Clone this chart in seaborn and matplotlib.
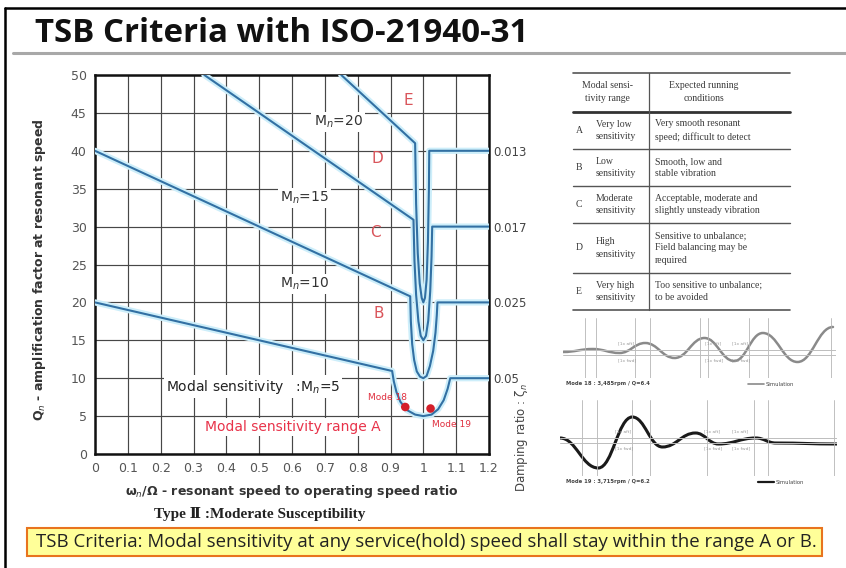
import numpy as np
import pandas as pd
import matplotlib
matplotlib.use("Agg")
import matplotlib.pyplot as plt
from matplotlib.path import Path
from matplotlib.patches import PathPatch, Rectangle
from matplotlib import font_manager
import seaborn as sns

sns.set_theme(style="white")
_installed = {f.name for f in font_manager.fontManager.ttflist}


def pick(*names):
    return [n for n in names if n in _installed] + ["DejaVu Sans"]


plt.rcParams["font.family"] = ["DejaVu Sans"]
plt.rcParams["mathtext.fontset"] = "dejavusans"

# ---------------- data: modal sensitivity chart ----------------
MN = [5, 10, 15, 20]
LINE_START_X = [0.0, 0.0, 0.333, 0.75]
LINE_START_Q = [20.0, 40.0, 50.0, 50.0]

# dip of each curve around resonance (first point = end of the sloping line)
U5_X = [0.905, 0.910, 0.918, 0.930, 0.950, 0.975, 1.000, 1.025, 1.045, 1.062, 1.074, 1.082]
U5_Q = [10.95, 9.6, 8.2, 6.9, 5.8, 5.2, 5.0, 5.2, 5.9, 7.1, 8.6, 10.0]
U10_X = [0.960, 0.962, 0.966, 0.972, 0.980, 0.990, 1.000, 1.010, 1.020, 1.030, 1.037, 1.041, 1.043]
U10_Q = [20.8, 17.5, 14.5, 12.4, 10.9, 10.2, 10.0, 10.3, 11.6, 13.6, 16.0, 18.3, 20.0]
U15_X = [0.970, 0.973, 0.978, 0.985, 0.992, 1.000, 1.008, 1.015, 1.021, 1.025, 1.027]
U15_Q = [30.9, 25.5, 21.0, 17.5, 15.6, 15.0, 15.6, 17.6, 21.5, 26.0, 30.0]
U20_X = [0.975, 0.978, 0.983, 0.989, 0.995, 1.000, 1.005, 1.010, 1.014, 1.017, 1.018]
U20_Q = [41.0, 33.0, 26.5, 22.5, 20.6, 20.0, 20.6, 23.0, 28.0, 35.0, 40.0]
U_X = [U5_X, U10_X, U15_X, U20_X]
U_Q = [U5_Q, U10_Q, U15_Q, U20_Q]

PLATEAU_Q = [10, 20, 30, 40]
DAMPING_LABELS = ["0.05", "0.025", "0.017", "0.013"]

MODE_NAMES = ["Mode 18", "Mode 19"]
MODE_X = [0.945, 1.022]
MODE_Q = [6.2, 6.0]

RANGE_LETTERS = ["B", "C", "D", "E"]
RANGE_X = [0.863, 0.853, 0.860, 0.954]
RANGE_Q = [18.6, 29.2, 39.0, 46.7]

MN_LABEL_X = [0.637, 0.637, 0.74]
MN_LABEL_Q = [22.4, 33.8, 43.8]
MN_LABEL_VALUES = [10, 15, 20]

XTICKS = [0.0, 0.1, 0.2, 0.3, 0.4, 0.5, 0.6, 0.7, 0.8, 0.9, 1.0, 1.1, 1.2]
XTICK_LABELS = ["0", "0.1", "0.2", "0.3", "0.4", "0.5", "0.6", "0.7", "0.8", "0.9", "1", "1.1", "1.2"]
YTICKS = [0, 5, 10, 15, 20, 25, 30, 35, 40, 45, 50]

# ---------------- data: response traces ----------------
T18 = [0.0, 0.109, 0.207, 0.301, 0.409, 0.518, 0.627, 0.732, 0.859, 0.989]
A18 = [0.0, 0.3, -0.1, 0.9, -0.6, 1.4, -0.9, 1.9, -1.0, 2.5]
T19 = [0.0, 0.138, 0.261, 0.370, 0.489, 0.572, 0.707, 0.779, 1.0]
A19 = [0.2, -2.8, 2.3, -0.7, 0.7, -0.4, 0.2, -0.3, -0.4]
GRID18 = [0.08, 0.12, 0.265, 0.32, 0.50, 0.53, 0.68, 0.75, 0.98]
GRID19 = [0.08, 0.135, 0.26, 0.325, 0.53, 0.70, 0.75, 0.99]

# ---------------- data: table ----------------
TABLE_HEAD = ["Modal sensi-\ntivity range", "Expected running\nconditions"]
TABLE_KEYS = ["A", "B", "C", "D", "E"]
TABLE_RANGE = ["Very low\nsensitivity", "Low\nsensitivity", "Moderate\nsensitivity",
               "High\nsensitivity", "Very high\nsensitivity"]
TABLE_COND = ["Very smooth resonant\nspeed; difficult to detect",
              "Smooth, low and\nstable vibration",
              "Acceptable, moderate and\nslightly unsteady vibration",
              "Sensitive to unbalance;\nField balancing may be\nrequired",
              "Too sensitive to unbalance;\nto be avoided"]

W, H = 846, 568
fig = plt.figure(figsize=(W / 100, H / 100), dpi=100)
fig.patch.set_facecolor("white")

# full-figure overlay in pixel units for slide furniture
ov = fig.add_axes([0, 0, 1, 1])
ov.set_xlim(0, W)
ov.set_ylim(H, 0)
ov.axis("off")
ov.patch.set_alpha(0)

ov.plot([5, 5], [8, H], color="black", lw=1.8)
ov.plot([5, W], [8, 8], color="black", lw=1.8)
ov.plot([13, W], [53, 53], color="#a8a8a8", lw=2.2)
ov.text(35, 33, "TSB Criteria with ISO-21940-31", fontsize=23.8, fontweight="bold",
        family=pick("Open Sans"), color="#111111", va="center", ha="left")

# bottom statement box
ov.add_patch(Rectangle((27, 528), 795, 28, facecolor="#ffff99", edgecolor="#e8741e", lw=1.5))
ov.text(426, 542, "TSB Criteria: Modal sensitivity at any service(hold) speed shall stay within the range A or B.",
        fontsize=13.4, family=pick("Open Sans"), color="#222222", ha="center", va="center")

ov.text(260, 514, "Type Ⅱ :Moderate Susceptibility", fontsize=11, fontweight="bold",
        family=pick("Liberation Serif", "DejaVu Serif"), color="#222222", ha="center", va="center")

# ---------------- table ----------------
tab_font = dict(family=pick("Liberation Serif", "DejaVu Serif"), color="#3a3a3a", fontsize=7)
ov.plot([573, 790], [73, 73], color="#555555", lw=1.2)
ov.plot([573, 790], [112, 112], color="#333333", lw=2.0)
row_lines = [149, 186, 223, 273]
for yl in row_lines:
    ov.plot([573, 790], [yl, yl], color="#555555", lw=1.0)
ov.plot([573, 790], [310, 310], color="#555555", lw=1.2)
ov.plot([649, 649], [73, 310], color="#555555", lw=0.9)
ov.text(607, 92, TABLE_HEAD[0], ha="center", va="center", linespacing=1.45, **tab_font)
ov.text(704, 92, TABLE_HEAD[1], ha="center", va="center", linespacing=1.45, **tab_font)
row_tops = [112] + row_lines + [310]
for k in range(5):
    yc = (row_tops[k] + row_tops[k + 1]) / 2
    ov.text(579, yc, TABLE_KEYS[k], ha="center", va="center", **tab_font)
    ov.text(596, yc, TABLE_RANGE[k], ha="left", va="center", linespacing=1.45, **tab_font)
    ov.text(655, yc, TABLE_COND[k], ha="left", va="center", linespacing=1.45, **tab_font)


# ---------------- response traces ----------------
def smooth_path(t, a):
    verts = [(t[0], a[0])]
    codes = [Path.MOVETO]
    for i in range(len(t) - 1):
        dx = t[i + 1] - t[i]
        verts += [(t[i] + 0.42 * dx, a[i]), (t[i + 1] - 0.42 * dx, a[i + 1]), (t[i + 1], a[i + 1])]
        codes += [Path.CURVE4] * 3
    return Path(verts, codes)


def trace_panel(rect, t, a, grid, ylim, color, lw):
    axw = fig.add_axes(rect)
    axw.set_xlim(0, 1)
    axw.set_ylim(*ylim)
    axw.axis("off")
    for g in grid:
        axw.axvline(g, color="#b5b5b5", lw=0.6)
    for lvl in (-0.25, 0.25):
        axw.axhline(lvl, color="#bdbdbd", lw=0.7)
    for xs in (0.2, 0.52, 0.62):
        axw.text(xs, 0.75, "[1x aft]", fontsize=3.2, color="#9a9a9a")
        axw.text(xs, -0.95, "[1x fwd]", fontsize=3.2, color="#9a9a9a")
    axw.add_patch(PathPatch(smooth_path(t, a), facecolor="none", edgecolor=color, lw=lw,
                            capstyle="round"))
    return axw


trace_panel([563 / W, 1 - 378 / H, 273 / W, 60 / H], T18, A18, GRID18, (-2.6, 3.4), "#8a8a8a", 1.8)
trace_panel([560 / W, 1 - 476 / H, 277 / W, 76 / H], T19, A19, GRID19, (-3.6, 4.0), "#1a1a1a", 2.2)
ov.text(566, 384, "Mode 18 : 3,485rpm / Q=6.4", fontsize=3.8, fontweight="bold", color="#444444", va="center")
ov.text(566, 482, "Mode 19 : 3,715rpm / Q=6.2", fontsize=3.8, fontweight="bold", color="#444444", va="center")
ov.plot([748, 764], [384, 384], color="#8a8a8a", lw=1.2)
ov.text(766, 384, "Simulation", fontsize=3.8, color="#444444", va="center")
ov.plot([758, 774], [482, 482], color="#1a1a1a", lw=1.6)
ov.text(776, 482, "Simulation", fontsize=3.8, color="#444444", va="center")

# ---------------- main chart ----------------
ax = fig.add_axes([95 / W, 1 - 454 / H, (489 - 95) / W, (454 - 75) / H])
frames = []
for i, mn in enumerate(MN):
    xs = [LINE_START_X[i]] + U_X[i] + [1.2]
    qs = [LINE_START_Q[i]] + U_Q[i] + [PLATEAU_Q[i]]
    frames.append(pd.DataFrame({"ratio": xs, "Q": qs, "Mn": mn}))
curves = pd.concat(frames, ignore_index=True)

sns.lineplot(data=curves, x="ratio", y="Q", units="Mn", estimator=None, sort=False,
             color="#cdeefa", lw=4.5, ax=ax, legend=False, zorder=3)
sns.lineplot(data=curves, x="ratio", y="Q", units="Mn", estimator=None, sort=False,
             color="#3270a3", lw=1.5, ax=ax, legend=False, zorder=4)
sns.scatterplot(x=MODE_X, y=MODE_Q, color="#d41f2a", s=38, edgecolor="none", ax=ax, zorder=6)

ax.set_xlim(0, 1.2)
ax.set_ylim(0, 50)
ax.set_xticks(XTICKS)
ax.set_xticklabels(XTICK_LABELS)
ax.set_yticks(YTICKS)
ax.set_axisbelow(True)
ax.grid(True, color="#474747", lw=0.85)
ax.tick_params(length=0, labelsize=9, labelcolor="#555555", pad=6)
for s in ax.spines.values():
    s.set_color("#111111")
    s.set_linewidth(1.8)
ax.set_xlabel("")
ax.set_ylabel("")

box = dict(facecolor="white", edgecolor="none", pad=1.5)
for xl, ql, v in zip(MN_LABEL_X, MN_LABEL_Q, MN_LABEL_VALUES):
    ax.text(xl, ql, f"M$_n$={v}", fontsize=10, color="#333333", ha="center", va="center", bbox=box, zorder=5)
for L, xl, ql in zip(RANGE_LETTERS, RANGE_X, RANGE_Q):
    ax.text(xl, ql, L, fontsize=11, color="#d9545a", ha="center", va="center", zorder=5)
ax.text(0.215, 8.9, "Modal sensitivity   :M$_n$=5", fontsize=10, color="#222222",
        ha="left", va="center", bbox=box, zorder=5)
ax.text(0.335, 3.6, "Modal sensitivity range A", fontsize=10, color="#e8334a",
        ha="left", va="center", bbox=box, zorder=5)
ax.text(0.95, 7.4, MODE_NAMES[0], fontsize=6.5, color="#e03040", ha="right", va="center", zorder=5)
ax.text(1.027, 3.9, MODE_NAMES[1], fontsize=6.5, color="#e03040", ha="left", va="center", zorder=5)

ax2 = ax.twinx()
ax2.set_ylim(0, 50)
ax2.set_yticks(PLATEAU_Q)
ax2.set_yticklabels(DAMPING_LABELS)
ax2.tick_params(length=0, labelsize=8.5, labelcolor="#444444", pad=3)
for s in ax2.spines.values():
    s.set_visible(False)
ax2.grid(False)

fig.text(40 / W, 1 - 270 / H, "Q$_n$ - amplification factor at resonant speed", rotation=90,
         fontsize=9, fontweight="bold", color="#333333", ha="center", va="center")
fig.text(292 / W, 1 - 492 / H, "ω$_n$/Ω - resonant speed to operating speed ratio",
         fontsize=9, fontweight="bold", color="#333333", ha="center", va="center")
fig.text(521 / W, 1 - 438 / H, "Damping ratio : ζ$_n$", rotation=90,
         fontsize=8.5, color="#444444", ha="center", va="center")

fig.savefig("out.png", dpi=100, facecolor="white")
